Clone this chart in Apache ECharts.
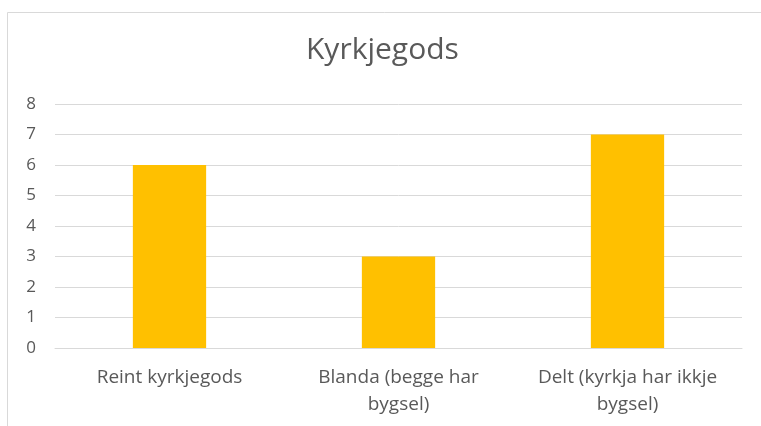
<!DOCTYPE html>
<html><head><meta charset="utf-8">
<script src="https://cdn.jsdelivr.net/npm/echarts@6/dist/echarts.min.js"></script>
<style>html,body{margin:0;padding:0;background:#fff}#c{width:761px;height:426px}</style>
</head><body><div id="c"></div>
<script>
const title = "Kyrkjegods";
const categories = ["Reint kyrkjegods", "Blanda (begge har\nbygsel)", "Delt (kyrkja har ikkje\nbygsel)"];
const values = [6, 3, 7];
const yTicks = {min: 0, max: 8, interval: 1};

const font = "'Open Sans', 'Noto Sans', sans-serif";
const chart = echarts.init(document.getElementById('c'), null, {renderer: 'canvas'});
chart.setOption({
  backgroundColor: '#fff',
  animation: false,
  graphic: [{
    type: 'rect', shape: {x: 7.5, y: 12.5, width: 800, height: 500},
    style: {fill: 'none', stroke: '#d9d9d9', lineWidth: 1}, z: -1
  }],
  title: {
    text: title, left: 306, top: 35, padding: 0,
    textStyle: {fontFamily: font, fontSize: 30, fontWeight: 'normal', color: '#595959'}
  },
  grid: {left: 55, right: 19, top: 104, bottom: 78, containLabel: false},
  xAxis: {
    type: 'category', data: categories,
    axisLine: {show: true, lineStyle: {color: '#d9d9d9'}},
    axisTick: {show: false},
    axisLabel: {fontFamily: font, fontSize: 19, color: '#595959', lineHeight: 27, margin: 16, interval: 0}
  },
  yAxis: {
    type: 'value', min: yTicks.min, max: yTicks.max, interval: yTicks.interval,
    axisLine: {show: false}, axisTick: {show: false},
    splitLine: {lineStyle: {color: '#d9d9d9', width: 1}},
    axisLabel: {fontFamily: font, fontSize: 17, color: '#595959', margin: 19}
  },
  series: [{
    type: 'bar', data: values, barWidth: '32%',
    itemStyle: {color: '#FFC000'}
  }]
});
</script></body></html>
